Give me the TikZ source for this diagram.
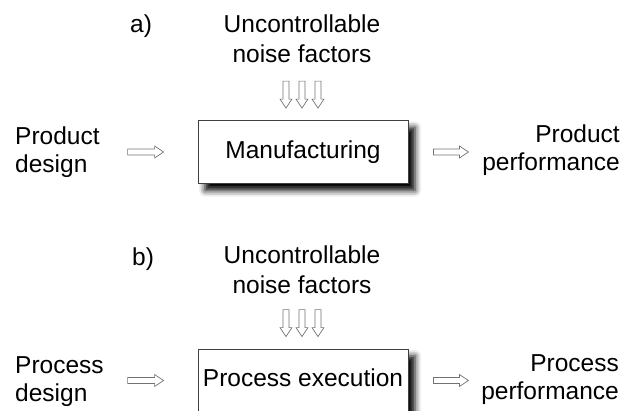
\documentclass[tikz,border=0pt]{standalone}
\usepackage{fontspec}
\setmainfont{Liberation Sans}
\usetikzlibrary{calc,shadows.blur}
\begin{document}
\begin{tikzpicture}[x=1pt,y=-1pt,
  lbl/.style={inner sep=0pt, font=\fontsize{24.5}{28}\selectfont, text=black},
  stage/.style={draw=black!75, line width=0.8pt, fill=white,
    minimum width=210pt, minimum height=63pt, inner sep=0pt,
    text height=17pt, text depth=5pt,
    font=\fontsize{24.5}{28}\selectfont, text=black,
    blur shadow={shadow xshift=7pt, shadow yshift=-7pt,
      shadow blur radius=6pt, shadow opacity=100}},
  % outlined block arrow from the start point to the target point
  flow/.style={draw=black!55, line width=0.7pt, fill=white, line join=miter,
    to path={let \p1=(\tikztostart), \p2=(\tikztotarget),
                 \p3=($(\p2)!9pt!(\p1)$) in
      ($(\p1)!3pt!90:(\p2)$) -- ($(\p3)!3pt!90:(\p2)$) --
      ($(\p3)!6pt!90:(\p2)$) -- (\p2) --
      ($(\p3)!6pt!-90:(\p2)$) -- ($(\p3)!3pt!-90:(\p2)$) --
      ($(\p1)!3pt!-90:(\p2)$) -- cycle}}]
\useasboundingbox (0,0) rectangle (623,410);
\clip (0,0) rectangle (623,410);

% ---------- a) product ----------
\node[lbl, anchor=base west] (ta) at (130,32) {a)};
\node[lbl, anchor=base, align=center, font=\fontsize{24.5}{30}\selectfont] (noisea) at (302,62) {Uncontrollable\\noise factors};
\node[lbl, anchor=base west, align=left] (ina) at (15,172) {Product\\design};
\node[lbl, anchor=base east, align=right] (outa) at (620,170) {Product\\performance};
\node[stage] (ma) at (303,152) {Manufacturing};

\coordinate (ina1) at ([xshift=-70pt]ma.west);
\coordinate (ina2) at ([xshift=-34pt]ma.west);
\coordinate (outa1) at ([xshift=25pt]ma.east);
\coordinate (outa2) at ([xshift=60pt]ma.east);
\draw[flow] (ina1) to (ina2);
\draw[flow] (outa1) to (outa2);
\foreach \i/\dx in {1/-17,2/-1,3/15}{
  \coordinate (na\i s) at ([xshift=\dx pt, yshift=39pt]ma.north);
  \coordinate (na\i e) at ([xshift=\dx pt, yshift=12pt]ma.north);
  \draw[flow] (na\i s) to (na\i e);
}

% ---------- b) process ----------
\node[lbl, anchor=base west] (tb) at (132,265) {b)};
\node[lbl, anchor=base, align=center, font=\fontsize{24.5}{30}\selectfont] (noiseb) at (302,293) {Uncontrollable\\noise factors};
\node[lbl, anchor=base west, align=left] (inb) at (15,401) {Process\\design};
\node[lbl, anchor=base east, align=right] (outb) at (619,399) {Process\\performance};
\node[stage] (mb) at (303,380.5) {Process execution};

\coordinate (inb1) at ([xshift=-70pt]mb.west);
\coordinate (inb2) at ([xshift=-34pt]mb.west);
\coordinate (outb1) at ([xshift=25pt]mb.east);
\coordinate (outb2) at ([xshift=60pt]mb.east);
\draw[flow] (inb1) to (inb2);
\draw[flow] (outb1) to (outb2);
\foreach \i/\dx in {1/-17,2/-1,3/15}{
  \coordinate (nb\i s) at ([xshift=\dx pt, yshift=39pt]mb.north);
  \coordinate (nb\i e) at ([xshift=\dx pt, yshift=12pt]mb.north);
  \draw[flow] (nb\i s) to (nb\i e);
}
\end{tikzpicture}
\end{document}
